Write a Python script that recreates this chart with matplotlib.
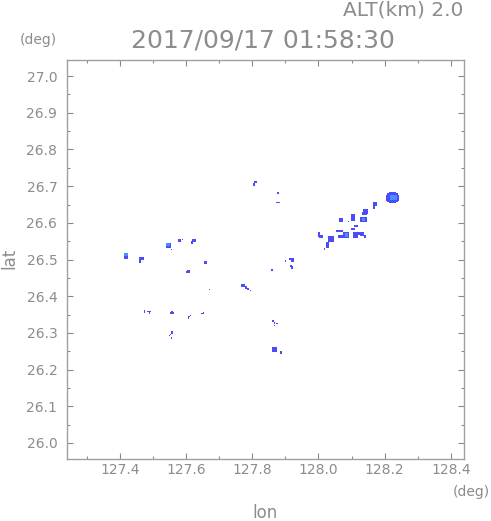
import numpy as np
import matplotlib
matplotlib.use('Agg')
import matplotlib.pyplot as plt
from matplotlib.colors import ListedColormap
from matplotlib.ticker import MultipleLocator, FormatStrFormatter

# echo areas as (lon_w, lon_e, lat_s, lat_n, level); level 2 = stronger echo core
echo_ne = [
    (128.207, 128.238, 26.657, 26.681, 1), (128.213, 128.232, 26.654, 26.685, 1),
    (128.204, 128.241, 26.661, 26.677, 1),
    (128.216, 128.235, 26.663, 26.677, 2),
    (128.165, 128.177, 26.647, 26.657, 1), (128.165, 128.170, 26.638, 26.647, 1),
    (128.135, 128.150, 26.622, 26.638, 1), (128.132, 128.147, 26.619, 26.628, 1),
    (128.126, 128.147, 26.600, 26.616, 1), (128.132, 128.141, 26.605, 26.613, 2),
    (128.098, 128.110, 26.603, 26.622, 1), (128.089, 128.092, 26.600, 26.603, 1),
    (128.062, 128.074, 26.600, 26.611, 1), (128.108, 128.120, 26.589, 26.592, 1),
    (128.098, 128.110, 26.581, 26.584, 1), (128.053, 128.074, 26.573, 26.581, 1),
    (128.059, 128.074, 26.559, 26.567, 1), (128.074, 128.092, 26.559, 26.575, 1),
    (128.080, 128.089, 26.562, 26.572, 2),
    (128.105, 128.120, 26.559, 26.575, 1), (128.126, 128.138, 26.564, 26.575, 1),
    (128.120, 128.126, 26.567, 26.573, 1), (128.138, 128.144, 26.559, 26.567, 1),
    (128.029, 128.047, 26.548, 26.564, 1), (128.023, 128.032, 26.532, 26.548, 1),
    (128.017, 128.020, 26.526, 26.532, 1),
    (127.999, 128.005, 26.562, 26.575, 1), (128.002, 128.014, 26.559, 26.565, 1),
]
echo_west = [
    (127.412, 127.424, 26.502, 26.518, 1), (127.412, 127.424, 26.510, 26.518, 2),
    (127.458, 127.473, 26.499, 26.507, 1), (127.458, 127.464, 26.491, 26.502, 1),
    (127.539, 127.554, 26.532, 26.545, 1), (127.539, 127.551, 26.537, 26.545, 2),
    (127.554, 127.557, 26.526, 26.529, 1),
    (127.576, 127.585, 26.548, 26.556, 1), (127.588, 127.591, 26.553, 26.556, 1),
    (127.618, 127.630, 26.548, 26.556, 1), (127.615, 127.621, 26.543, 26.550, 1),
    (127.654, 127.663, 26.488, 26.496, 1),
    (127.600, 127.612, 26.464, 26.469, 1), (127.603, 127.612, 26.469, 26.472, 1),
]
echo_sw = [
    (127.473, 127.476, 26.352, 26.360, 1),
    (127.482, 127.494, 26.355, 26.358, 1), (127.488, 127.491, 26.349, 26.355, 1),
    (127.551, 127.563, 26.349, 26.355, 1), (127.554, 127.560, 26.355, 26.358, 1),
    (127.612, 127.615, 26.344, 26.347, 1), (127.606, 127.612, 26.341, 26.344, 1),
    (127.606, 127.609, 26.338, 26.341, 1),
    (127.645, 127.654, 26.349, 26.352, 1), (127.651, 127.654, 26.352, 26.355, 1),
    (127.554, 127.560, 26.297, 26.303, 1), (127.551, 127.554, 26.294, 26.297, 1),
    (127.548, 127.551, 26.291, 26.294, 1), (127.554, 127.557, 26.284, 26.287, 1),
    (127.669, 127.672, 26.417, 26.420, 1),
]
echo_center = [
    (127.805, 127.814, 26.708, 26.714, 1), (127.802, 127.808, 26.701, 26.709, 1),
    (127.875, 127.881, 26.679, 26.684, 1), (127.872, 127.884, 26.655, 26.658, 1),
    (127.911, 127.926, 26.499, 26.504, 1), (127.917, 127.926, 26.494, 26.499, 1),
    (127.899, 127.902, 26.494, 26.499, 1),
    (127.914, 127.920, 26.480, 26.485, 1), (127.917, 127.923, 26.474, 26.482, 1),
    (127.857, 127.863, 26.469, 26.474, 1),
    (127.766, 127.778, 26.425, 26.434, 1), (127.776, 127.784, 26.420, 26.428, 1),
    (127.783, 127.790, 26.417, 26.422, 1), (127.793, 127.796, 26.414, 26.417, 1),
    (127.862, 127.868, 26.329, 26.333, 1), (127.866, 127.868, 26.322, 26.329, 1),
    (127.872, 127.878, 26.322, 26.325, 1), (127.866, 127.869, 26.317, 26.320, 1),
    (127.862, 127.876, 26.247, 26.260, 1), (127.884, 127.890, 26.242, 26.249, 1),
]

title = '2017/09/17 01:58:30'
alt_label = 'ALT(km) 2.0'
lon_lim = (127.24, 128.44)
lat_lim = (25.956, 27.044)

# gridded echo field
dlon, dlat = 0.003, 0.0027
lon_edges = np.arange(lon_lim[0], lon_lim[1] + dlon, dlon)
lat_edges = np.arange(lat_lim[0], lat_lim[1] + dlat, dlat)
field = np.zeros((len(lat_edges) - 1, len(lon_edges) - 1))
for w, e, s, n, lev in echo_ne + echo_west + echo_sw + echo_center:
    i0 = int(round((w - lon_lim[0]) / dlon))
    i1 = max(i0 + 1, int(round((e - lon_lim[0]) / dlon)))
    j0 = int(round((s - lat_lim[0]) / dlat))
    j1 = max(j0 + 1, int(round((n - lat_lim[0]) / dlat)))
    field[j0:j1, i0:i1] = np.maximum(field[j0:j1, i0:i1], lev)
field = np.ma.masked_equal(field, 0)

grey = '#8a8a8a'
txt = '#8c8c8c'
fig = plt.figure(figsize=(4.91, 5.21), dpi=100)
ax = fig.add_axes([0.1365, 0.119, 0.8086, 0.7658])
cmap = ListedColormap(['#4b4bfa', '#4790ff'])
ax.pcolormesh(lon_edges, lat_edges, field, cmap=cmap, vmin=0.5, vmax=2.5)

ax.set_xlim(lon_lim)
ax.set_ylim(lat_lim)
ax.xaxis.set_major_locator(MultipleLocator(0.2))
ax.xaxis.set_minor_locator(MultipleLocator(0.1))
ax.yaxis.set_major_locator(MultipleLocator(0.1))
ax.yaxis.set_minor_locator(MultipleLocator(0.05))
ax.xaxis.set_major_formatter(FormatStrFormatter('%.1f'))
ax.yaxis.set_major_formatter(FormatStrFormatter('%.1f'))
ax.tick_params(which='both', direction='in', top=True, right=True, color=grey,
               labelcolor=txt, labelsize=10)
ax.tick_params(which='major', length=4.3, width=0.8)
ax.tick_params(which='minor', length=2.2, width=0.8)
ax.tick_params(axis='x', pad=3)
ax.tick_params(axis='y', pad=7)
for sp in ax.spines.values():
    sp.set_color('#a0a0a0')
    sp.set_linewidth(1)

fig.text(263 / 491, 1 - 40 / 521, title, ha='center', va='center',
         fontsize=18, color=txt)
fig.text(463 / 491, 1 - 10 / 521, alt_label, ha='right', va='center',
         fontsize=14.5, color=txt)
fig.text(38 / 491, 1 - 40 / 521, '(deg)', ha='center', va='center',
         fontsize=10, color=txt)
fig.text(471 / 491, 1 - 492 / 521, '(deg)', ha='center', va='center',
         fontsize=10, color=txt)
fig.text(265 / 491, 1 - 518 / 521, 'lon', ha='center', va='baseline',
         fontsize=12, color=txt)
fig.text(9 / 491, 1 - 258 / 521, 'lat', ha='center', va='center',
         fontsize=12, color=txt, rotation=90)

fig.savefig('out.png', dpi=100)
